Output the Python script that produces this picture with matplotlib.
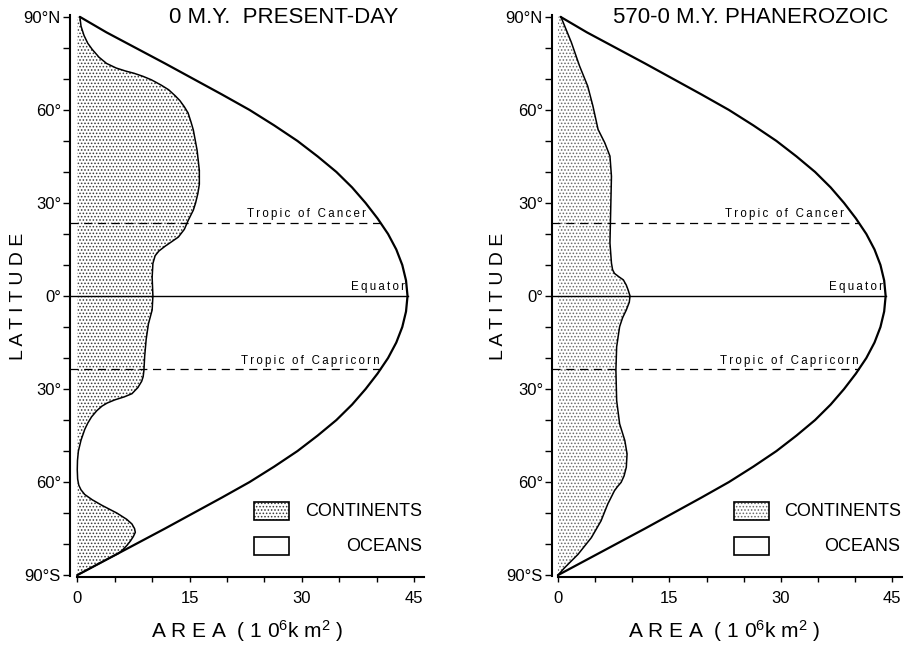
import numpy as np
import matplotlib
matplotlib.use("Agg")
import matplotlib.pyplot as plt
from matplotlib.patches import Rectangle
from matplotlib.ticker import MultipleLocator

plt.rcParams['font.family'] = ['Liberation Sans', 'DejaVu Sans']
plt.rcParams['mathtext.fontset'] = 'custom'
plt.rcParams['mathtext.rm'] = 'Liberation Sans'
plt.rcParams['mathtext.it'] = 'Liberation Sans'
plt.rcParams['hatch.linewidth'] = 0.7

# ---------------- data ----------------
# total area of each latitude band (outer curve), 10^6 km^2
total_lat = [90, 85, 80, 75, 70, 65, 60, 55, 50, 45, 40, 35, 30, 25, 20, 15, 10, 5, 0,
             -5, -10, -15, -20, -25, -30, -35, -40, -45, -50, -55, -60, -65, -70, -75, -80, -85, -90]
total_area = [0.35, 3.9, 7.8, 11.7, 15.5, 19.3, 23.0, 26.3, 29.4, 32.1, 34.6, 36.7, 38.5, 40.1, 41.5, 42.6, 43.4, 43.9, 44.1,
              43.9, 43.4, 42.6, 41.5, 40.1, 38.5, 36.7, 34.6, 32.1, 29.4, 26.3, 23.0, 19.3, 15.5, 11.7, 7.8, 3.9, 0.0]

# present-day continental area
present_lat = [90, 87, 84, 81.5, 79.5, 77, 75, 73.5, 72.5, 71.8, 70.8, 69.7, 68, 66.5, 64.5, 63, 61, 59,
               56, 53.5, 47, 40.5, 36, 33, 30, 27.7, 24.3, 21.5, 19, 17.5, 16, 14.5, 13, 10.5, 6, 0,
               -4.5, -9, -14, -19.5, -24, -26, -27.5, -29.5, -31.5, -32.5, -33.5, -34.5, -35.5, -37, -39,
               -41, -43, -46.5, -50, -53, -56, -59, -61, -62.5, -64, -65.7, -67.5, -70, -72, -73.5, -75,
               -76.2, -77.5, -79, -80.5, -82, -83, -85, -90]
present_cont = [0.35, 0.5, 0.9, 1.4, 2.0, 2.9, 3.9, 5.2, 6.5, 7.6, 8.8, 9.9, 11.2, 12.2, 13.1, 13.7, 14.3, 14.8,
                15.2, 15.5, 16.0, 16.3, 16.3, 16.1, 15.8, 15.5, 14.8, 14.3, 13.5, 12.6, 11.7, 10.9, 10.4, 10.1, 10.0, 10.1,
                10.0, 9.5, 9.2, 9.0, 8.9, 8.8, 8.6, 8.1, 7.3, 6.3, 5.0, 4.0, 3.3, 2.6, 1.9,
                1.4, 1.0, 0.5, 0.15, 0.03, 0.0, 0.05, 0.2, 0.5, 1.0, 2.0, 3.3, 5.3, 6.6, 7.3, 7.65,
                7.75, 7.5, 7.1, 6.6, 6.0, 5.5, 3.9, 0.0]

# Phanerozoic (570-0 M.Y.) average continental area
phan_lat = [90, 81.8, 74.2, 67.7, 61.3, 53.7, 49.4, 45.1, 38.6, 27.8, 17.1, 10.6, 8.5, 7.3, 6.2, 5.2, 3.5, 1.9, 0,
            -2, -4.5, -7, -9.9, -16.4, -23.9, -33.7, -41.2, -46.6, -50.9, -55.2, -58, -60.1, -61.5, -62.8,
            -67.1, -72.5, -77.9, -83.3, -87.6, -90]
phan_cont = [0.4, 1.8, 2.9, 4.0, 4.7, 5.4, 6.3, 7.0, 7.2, 7.1, 7.0, 7.2, 7.35, 7.6, 8.2, 8.8, 9.2, 9.45, 9.7,
             9.6, 9.2, 8.7, 8.3, 7.9, 7.8, 7.9, 8.3, 9.0, 9.3, 9.2, 8.9, 8.5, 8.0, 7.6,
             6.7, 5.8, 4.5, 2.7, 0.9, 0.0]

ytick_vals = [-90, -60, -30, 0, 30, 60, 90]
ytick_labels = ['90°S', '60°', '30°', '0°', '30°', '60°', '90°N']
xtick_vals = [0, 15, 30, 45]
xtick_labels = ['0', '15', '30', '45']

tropic_cancer = 23.5
tropic_capricorn = -23.5
equator = 0.0

titles = ['0 M.Y.  PRESENT-DAY', '570-0 M.Y. PHANEROZOIC']

TS = '\u2009'
def spaced(s):
    return TS.join(list(s))

# ---------------- figure ----------------
W, H = 905, 655
fig = plt.figure(figsize=(W / 100, H / 100), dpi=100)

panels = [
    dict(rect=[70 / W, 78 / H, 354 / W, 562 / H], xlim=(-0.97, 46.3), lat=present_lat, cont=present_cont,
         title=titles[0], title_x=0.927, hatch_col='#3a3a3a', ylab_x=18.5, xlab_x=247),
    dict(rect=[552 / W, 78 / H, 350 / W, 562 / H], xlim=(-0.8, 46.3), lat=phan_lat, cont=phan_cont,
         title=titles[1], title_x=0.962, hatch_col='#6a6a6a', ylab_x=498, xlab_x=724),
]

tl = np.array(total_lat, dtype=float)
ta = np.array(total_area, dtype=float)
order = np.argsort(tl)

for p in panels:
    ax = fig.add_axes(p['rect'])
    ax.set_xlim(*p['xlim'])
    ax.set_ylim(-90.6, 90.6)

    # continents (stippled)
    ax.fill_betweenx(p['lat'], 0, p['cont'], facecolor='white', edgecolor=p['hatch_col'],
                     hatch='.....', linewidth=0, zorder=1)
    ax.plot(p['cont'], p['lat'], color='black', lw=1.1, zorder=3, solid_joinstyle='round')
    # total area (outer curve)
    ax.plot(total_area, total_lat, color='black', lw=1.6, zorder=3, solid_capstyle='round',
            solid_joinstyle='round')

    # reference lines
    xa = p['xlim'][0]
    xc = np.interp(tropic_cancer, tl[order], ta[order])
    xk = np.interp(tropic_capricorn, tl[order], ta[order])
    xe = np.interp(equator, tl[order], ta[order])
    ax.plot([xa, xc], [tropic_cancer, tropic_cancer], color='black', lw=0.9, dashes=(6.5, 4.5), zorder=2)
    ax.plot([xa, xk], [tropic_capricorn, tropic_capricorn], color='black', lw=0.9, dashes=(6.5, 4.5), zorder=2)
    ax.plot([xa, xe], [equator, equator], color='black', lw=1.0, zorder=2)

    ax.text(xc - 2.0, tropic_cancer + 2.0, spaced('Tropic of Cancer'), fontsize=8.3, ha='right', va='baseline')
    ax.text(xk - 0.1, tropic_capricorn + 1.7, spaced('Tropic of Capricorn'), fontsize=8.3, ha='right', va='baseline')
    ax.text(xe - 0.4, equator + 1.9, spaced('Equator'), fontsize=8.3, ha='right', va='baseline')

    # spines / ticks
    for s in ['top', 'right']:
        ax.spines[s].set_visible(False)
    ax.spines['left'].set_linewidth(1.5)
    ax.spines['bottom'].set_linewidth(1.5)
    ax.spines['left'].set_bounds(-90.3, 90.6)
    ax.spines['bottom'].set_bounds(0, p['xlim'][1])

    ax.set_yticks(ytick_vals)
    ax.set_yticklabels(ytick_labels)
    ax.yaxis.set_minor_locator(MultipleLocator(10))
    ax.set_xticks(xtick_vals)
    ax.set_xticklabels(xtick_labels)
    ax.xaxis.set_minor_locator(MultipleLocator(5))
    ax.tick_params(axis='y', which='both', direction='out', length=5, width=1.0, pad=1.5, labelsize=12)
    ax.tick_params(axis='x', which='both', direction='out', length=3.8, width=1.0, pad=6, labelsize=12)

    # title
    ax.text(p['title_x'], 0.9964, p['title'], transform=ax.transAxes, fontsize=16, ha='right', va='center')

    # legend
    ax.add_patch(Rectangle((0.52, 0.101), 0.099, 0.032, transform=ax.transAxes, facecolor='white',
                           edgecolor=p['hatch_col'], hatch='.....', linewidth=0, zorder=4))
    ax.add_patch(Rectangle((0.52, 0.101), 0.099, 0.032, transform=ax.transAxes, facecolor='none',
                           edgecolor='black', linewidth=1.2, zorder=5))
    ax.add_patch(Rectangle((0.52, 0.039), 0.099, 0.032, transform=ax.transAxes, facecolor='white',
                           edgecolor='black', linewidth=1.2, zorder=5))
    ax.text(0.664, 0.117, 'CONTINENTS', transform=ax.transAxes, fontsize=13, ha='left', va='center')
    ax.text(0.994, 0.055, 'OCEANS', transform=ax.transAxes, fontsize=13, ha='right', va='center')

    # axis labels
    fig.text(p['ylab_x'] / W, (H - 296) / H, 'L A T I T U D E', rotation=90, fontsize=14,
             ha='center', va='center')
    fig.text(p['xlab_x'] / W, (H - 638) / H, r'A R E A  ( 1 0$^{6}$k m$^{2}$ )', fontsize=15,
             ha='center', va='baseline')

fig.savefig('out.png', dpi=100)
